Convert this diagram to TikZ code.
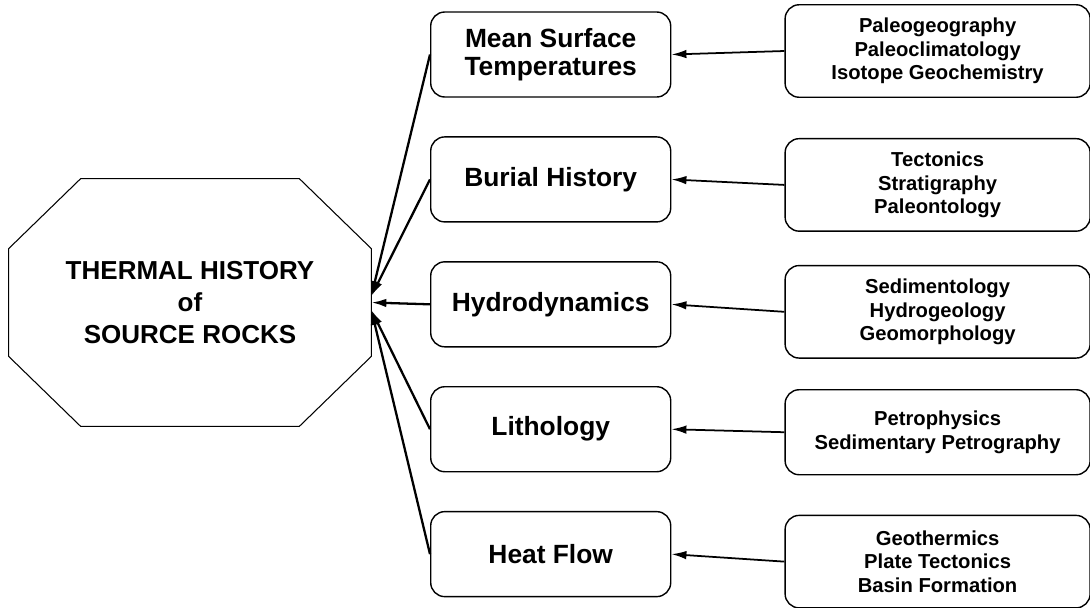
\documentclass[tikz,border=0pt]{standalone}
\usepackage{fontspec}
\setmainfont{Liberation Sans}
\usetikzlibrary{arrows.meta,positioning}

\begin{document}
\begin{tikzpicture}[
  factor/.style={draw, rounded corners=8pt, line width=0.8pt, align=center, minimum width=4.8cm, minimum height=1.7cm, font=\fontsize{15}{16}\selectfont\bfseries},
  source/.style={draw, rounded corners=8pt, line width=0.8pt, align=center, minimum width=6.1cm, minimum height=1.85cm, font=\fontsize{11.5}{13.3}\selectfont\bfseries},
  arr/.style={-{Latex[length=3mm,width=1.7mm]}, line width=1.3pt},
  feed/.style={-{Latex[length=3mm,width=1.7mm]}, line width=1pt}
]

\useasboundingbox (0,0) rectangle (21.8,-12.14);

\node[minimum width=7.24cm, minimum height=4.94cm, inner sep=0pt, align=center, font=\fontsize{14.8}{18}\selectfont\bfseries] (thermal) at (3.8,-6.05) {THERMAL HISTORY\\of\\SOURCE ROCKS};
\draw[line width=0.6pt] ([xshift=1.44cm]thermal.north west) -- ([xshift=-1.44cm]thermal.north east)
  -- ([yshift=-1.4cm]thermal.north east) -- ([yshift=1.4cm]thermal.south east)
  -- ([xshift=-1.44cm]thermal.south east) -- ([xshift=1.44cm]thermal.south west)
  -- ([yshift=1.4cm]thermal.south west) -- ([yshift=-1.4cm]thermal.north west) -- cycle;

% controlling factors
\node[factor, anchor=west] (surface) at (8.6,-1.09) {Mean Surface\\Temperatures};
\node[factor, below=0.77cm of surface] (burial) {Burial History};
\node[factor, below=0.77cm of burial] (hydro) {Hydrodynamics};
\node[factor, below=0.77cm of hydro] (litho) {Lithology};
\node[factor, below=0.77cm of litho] (heat) {Heat Flow};

% disciplines
\node[source, right=2.26cm of surface, yshift=0.07cm] (paleo) {Paleogeography\\Paleoclimatology\\Isotope Geochemistry};
\node[source, right=2.26cm of burial, yshift=-0.11cm] (tecto) {Tectonics\\Stratigraphy\\Paleontology};
\node[source, right=2.26cm of hydro, yshift=-0.15cm] (sedi) {Sedimentology\\Hydrogeology\\Geomorphology};
\node[source, right=2.26cm of litho, yshift=-0.06cm, minimum height=1.7cm] (petro) {Petrophysics\\Sedimentary Petrography};
\node[source, right=2.26cm of heat, yshift=-0.15cm] (geo) {Geothermics\\Plate Tectonics\\Basin Formation};

\coordinate (upin) at ([yshift=0.13cm]thermal.east);
\coordinate (midin) at (thermal.east);
\coordinate (lowin) at ([yshift=-0.15cm]thermal.east);

\draw[arr] (surface.west) -- (upin);
\draw[arr] (burial.west) -- (upin);
\draw[arr] (hydro.west) -- (midin);
\draw[arr] (litho.west) -- (lowin);
\draw[arr] (heat.west) -- (lowin);

\draw[feed] (paleo.west) -- (surface.east);
\draw[feed] (tecto.west) -- (burial.east);
\draw[feed] (sedi.west) -- (hydro.east);
\draw[feed] (petro.west) -- (litho.east);
\draw[feed] (geo.west) -- (heat.east);

\end{tikzpicture}
\end{document}
